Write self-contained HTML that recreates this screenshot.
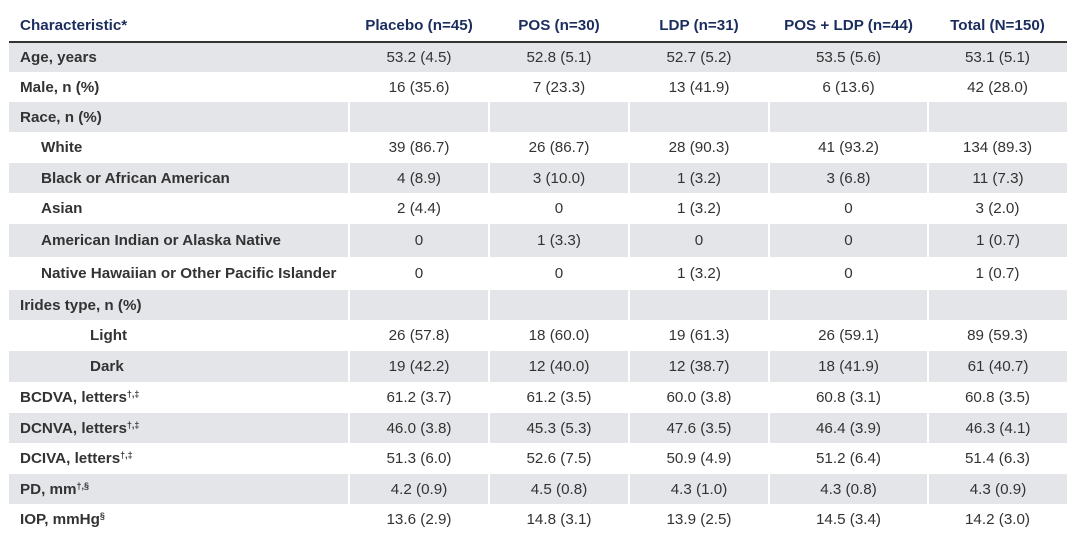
<!DOCTYPE html>
<html><head><meta charset="utf-8"><style>
body{margin:0;background:#fff;width:1085px;height:537px;overflow:hidden;font-family:"Liberation Sans",Arial,sans-serif;}
table{position:absolute;left:9px;top:9px;border-collapse:collapse;table-layout:fixed;width:1058px;}
td,th{padding:0;font-size:15.2px;color:#333;text-align:center;white-space:nowrap;}
th{color:#1b2d5e;font-weight:bold;height:32px;border-bottom:2px solid #333;}
th.l,td.l{text-align:left;padding-left:11px;font-weight:bold;}
td.i1{padding-left:32px}
td.i2{padding-left:81px}
tr.g td{background:#e4e5e9;border-left:2px solid #fff}
tr.g td.l{border-left:none}
tr.a td{border-left:none}
sup{font-size:9px;vertical-align:5px;line-height:0}
</style></head><body>
<table>
<colgroup><col style="width:340px"><col style="width:140px"><col style="width:140px"><col style="width:140px"><col style="width:159px"><col style="width:139px"></colgroup>
<tr><th class="l">Characteristic*</th><th>Placebo (n=45)</th><th>POS (n=30)</th><th>LDP (n=31)</th><th>POS + LDP (n=44)</th><th>Total (N=150)</th></tr>
<tr class="g a" style="height:30px"><td class="l">Age, years</td><td>53.2 (4.5)</td><td>52.8 (5.1)</td><td>52.7 (5.2)</td><td>53.5 (5.6)</td><td>53.1 (5.1)</td></tr>
<tr style="height:30px"><td class="l">Male, n (%)</td><td>16 (35.6)</td><td>7 (23.3)</td><td>13 (41.9)</td><td>6 (13.6)</td><td>42 (28.0)</td></tr>
<tr class="g" style="height:30px"><td class="l">Race, n (%)</td><td></td><td></td><td></td><td></td><td></td></tr>
<tr style="height:31px"><td class="l i1">White</td><td>39 (86.7)</td><td>26 (86.7)</td><td>28 (90.3)</td><td>41 (93.2)</td><td>134 (89.3)</td></tr>
<tr class="g" style="height:30px"><td class="l i1">Black or African American</td><td>4 (8.9)</td><td>3 (10.0)</td><td>1 (3.2)</td><td>3 (6.8)</td><td>11 (7.3)</td></tr>
<tr style="height:31px"><td class="l i1">Asian</td><td>2 (4.4)</td><td>0</td><td>1 (3.2)</td><td>0</td><td>3 (2.0)</td></tr>
<tr class="g" style="height:33px"><td class="l i1">American Indian or Alaska Native</td><td>0</td><td>1 (3.3)</td><td>0</td><td>0</td><td>1 (0.7)</td></tr>
<tr style="height:33px"><td class="l i1">Native Hawaiian or Other Pacific Islander</td><td>0</td><td>0</td><td>1 (3.2)</td><td>0</td><td>1 (0.7)</td></tr>
<tr class="g" style="height:30px"><td class="l">Irides type, n (%)</td><td></td><td></td><td></td><td></td><td></td></tr>
<tr style="height:31px"><td class="l i2">Light</td><td>26 (57.8)</td><td>18 (60.0)</td><td>19 (61.3)</td><td>26 (59.1)</td><td>89 (59.3)</td></tr>
<tr class="g" style="height:31px"><td class="l i2">Dark</td><td>19 (42.2)</td><td>12 (40.0)</td><td>12 (38.7)</td><td>18 (41.9)</td><td>61 (40.7)</td></tr>
<tr style="height:31px"><td class="l">BCDVA, letters<sup>†,‡</sup></td><td>61.2 (3.7)</td><td>61.2 (3.5)</td><td>60.0 (3.8)</td><td>60.8 (3.1)</td><td>60.8 (3.5)</td></tr>
<tr class="g" style="height:30px"><td class="l">DCNVA, letters<sup>†,‡</sup></td><td>46.0 (3.8)</td><td>45.3 (5.3)</td><td>47.6 (3.5)</td><td>46.4 (3.9)</td><td>46.3 (4.1)</td></tr>
<tr style="height:31px"><td class="l">DCIVA, letters<sup>†,‡</sup></td><td>51.3 (6.0)</td><td>52.6 (7.5)</td><td>50.9 (4.9)</td><td>51.2 (6.4)</td><td>51.4 (6.3)</td></tr>
<tr class="g" style="height:30px"><td class="l">PD, mm<sup>†,§</sup></td><td>4.2 (0.9)</td><td>4.5 (0.8)</td><td>4.3 (1.0)</td><td>4.3 (0.8)</td><td>4.3 (0.9)</td></tr>
<tr style="height:31px"><td class="l">IOP, mmHg<sup>§</sup></td><td>13.6 (2.9)</td><td>14.8 (3.1)</td><td>13.9 (2.5)</td><td>14.5 (3.4)</td><td>14.2 (3.0)</td></tr>
</table>
</body></html>
